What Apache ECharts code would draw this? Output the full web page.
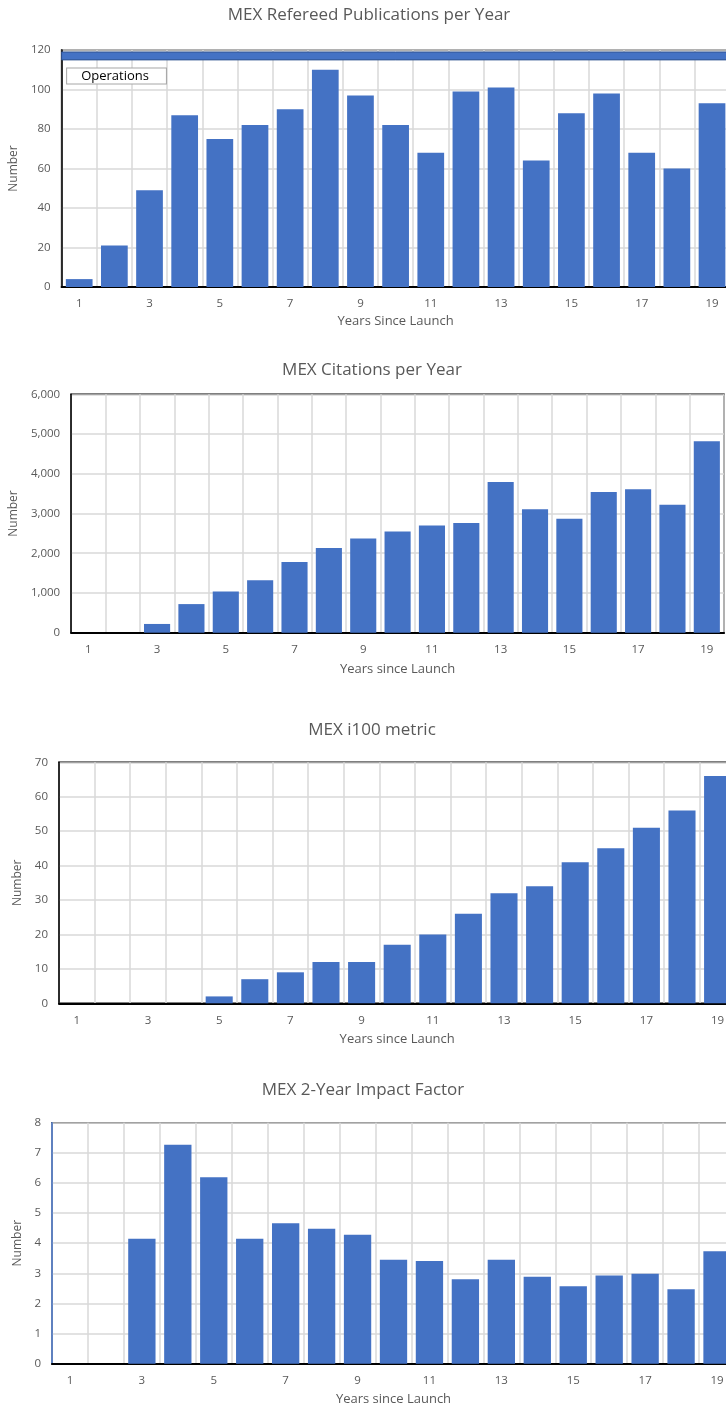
<!DOCTYPE html>
<html><head><meta charset="utf-8">
<script src="https://cdn.jsdelivr.net/npm/echarts@6/dist/echarts.min.js"></script>
<style>
html,body{margin:0;padding:0;overflow:hidden;background:#fff;width:726px;height:1412px}
#c{width:740px;height:1412px}
</style>
</head><body><div id="c"></div>
<script>
// ---- data ----
const years = ['1','2','3','4','5','6','7','8','9','10','11','12','13','14','15','16','17','18','19'];
const publications = [4,21,49,87,75,82,90,110,97,82,68,99,101,64,88,98,68,60,93];
const citations = [0,0,220,720,1040,1320,1780,2130,2370,2550,2700,2760,3790,3110,2870,3540,3610,3220,4820];
const i100 = [0,0,0,0,2,7,9,12,12,17,20,26,32,34,41,45,51,56,66];
const impactFactor = [0,0,4.15,7.27,6.19,4.15,4.66,4.48,4.28,3.45,3.41,2.80,3.45,2.89,2.57,2.93,2.99,2.47,3.73];
const chartTitles = ['MEX Refereed Publications per Year','MEX Citations per Year','MEX i100 metric','MEX 2-Year Impact Factor'];
const xAxisNames = ['Years Since Launch','Years since Launch','Years since Launch','Years since Launch'];
const yAxisName = 'Number';
const yMaxes = [120, 6000, 70, 8];
const yIntervals = [20, 1000, 10, 1];
const operationsBand = [115, 119];
const operationsLabel = 'Operations';

// ---- layout ----
const panels = [
  {left:57,   top:50,    width:672.6, height:237,   tx:369, ty:18,   xGap:29, yGap:35,   yAxisColor:'#000'},
  {left:68.5, top:394.3, width:655.5, height:238.4, tx:372, ty:373,  xGap:31, yGap:46.5, yAxisColor:'#000'},
  {left:59,   top:762.3, width:676.4, height:241,   tx:372, ty:733,  xGap:30, yGap:31,   yAxisColor:'#000'},
  {left:52,   top:1122.7,width:683,   height:241,   tx:363, ty:1093, xGap:30, yGap:24,   yAxisColor:'#4472C4'}
];
const seriesData = [publications, citations, i100, impactFactor];
const FONT = '"Open Sans", "Noto Sans", sans-serif';
const gray = '#595959';
const gridLine = '#D9D9D9';

const option = {
  animation:false,
  backgroundColor:'#fff',
  title: panels.map((p,i)=>({
    text: chartTitles[i], left: p.tx, top: p.ty - 11, textAlign:'center', padding:0,
    textStyle:{color:gray, fontFamily:FONT, fontSize:17, fontWeight:'normal'}
  })),
  grid: panels.map(p=>({
    left:p.left, top:p.top, width:p.width, height:p.height, containLabel:false,
    show:true, borderColor:'#000', borderWidth:1.5, backgroundColor:'transparent'
  })),
  xAxis: panels.map((p,i)=>({
    type:'category', gridIndex:i, data:years,
    name:xAxisNames[i], nameLocation:'middle', nameGap:p.xGap - 1,
    nameTextStyle:{color:gray, fontFamily:FONT, fontSize:13},
    axisLine:{show:true, lineStyle:{color:'#000', width:2}},
    axisTick:{show:false},
    axisLabel:{interval:1, color:gray, fontFamily:FONT, fontSize:11.5, margin:11},
    splitLine:{show:true, interval:0, lineStyle:{color:gridLine, width:1.5}}
  })),
  yAxis: panels.map((p,i)=>({
    type:'value', gridIndex:i, min:0, max:yMaxes[i], interval:yIntervals[i],
    name:yAxisName, nameLocation:'middle', nameGap:p.yGap, nameRotate:90,
    nameTextStyle:{color:gray, fontFamily:FONT, fontSize:12},
    axisLine:{show:true, lineStyle:{color:p.yAxisColor, width:1.5}},
    axisTick:{show:false},
    axisLabel:{color:gray, fontFamily:FONT, fontSize:11.5, margin:11,
      formatter:v=>v.toLocaleString('en-US')},
    splitLine:{show:true, lineStyle:{color:gridLine, width:1.5}}
  })),
  series: seriesData.map((d,i)=>{
    const s = {
      type:'bar', xAxisIndex:i, yAxisIndex:i, data:d, barCategoryGap:'24%',
      itemStyle:{color:'#4472C4'}
    };
    if (i===0) {
      s.markArea = {
        silent:true,
        itemStyle:{color:'#4472C4', borderColor:'#2F528F', borderWidth:1},
        label:{show:true, position:[6,17], formatter:operationsLabel,
          color:'#000', fontFamily:FONT, fontSize:13,
          backgroundColor:'#fff', borderColor:'#A6A6A6', borderWidth:1,
          padding:[1,17,1,14]},
        data:[[{yAxis:operationsBand[0]},{yAxis:operationsBand[1]}]]
      };
    }
    return s;
  })
};
const chart = echarts.init(document.getElementById('c'), null, {renderer:'canvas'});
chart.setOption(option);
</script>
</body></html>
